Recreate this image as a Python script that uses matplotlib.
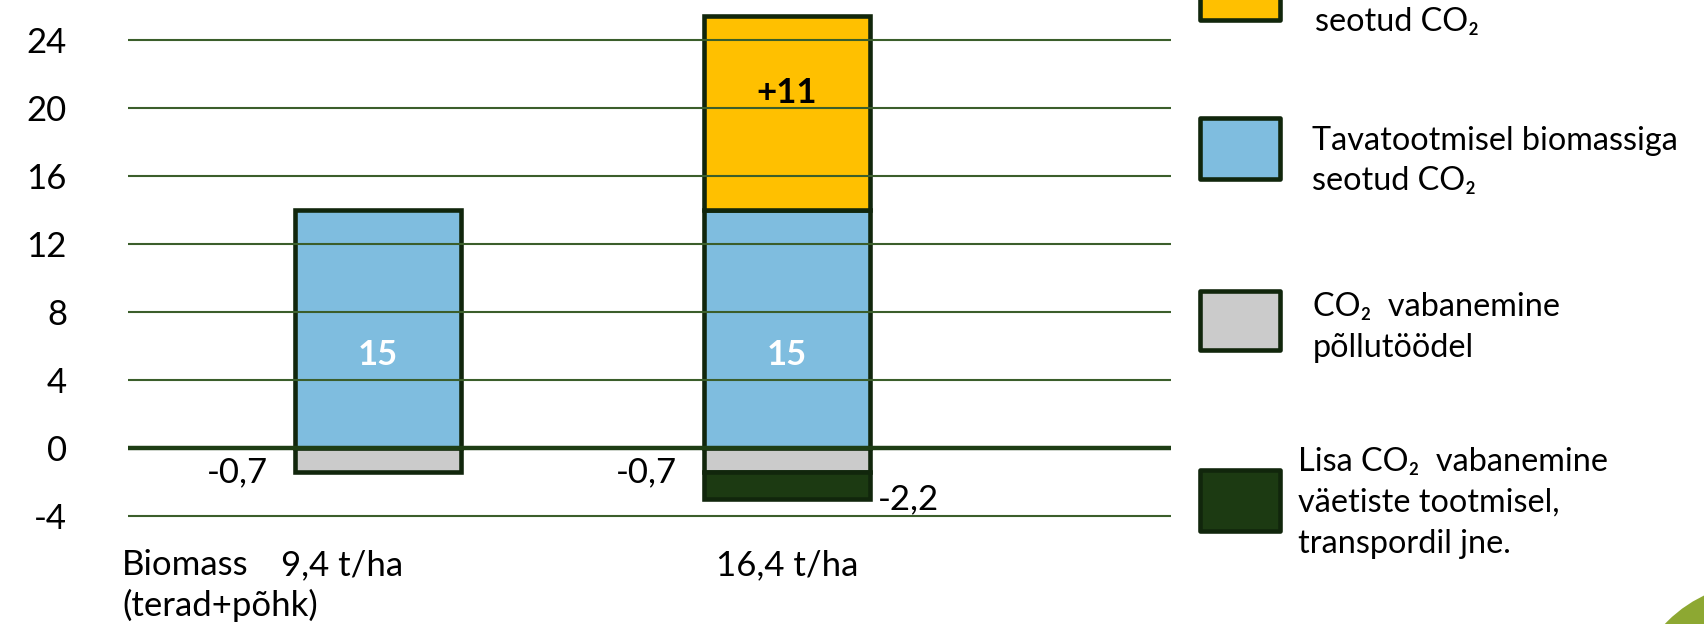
import matplotlib
matplotlib.use('Agg')
import matplotlib.pyplot as plt
from matplotlib.patches import Rectangle, Circle
from matplotlib.transforms import blended_transform_factory
import numpy as np

plt.rcParams['font.family'] = ['Lato', 'DejaVu Sans']

# ---------------- data ----------------
categories = ['9,4 t/ha', '16,4 t/ha']
blue_vals = [14.0, 14.0]        # Tavatootmisel biomassiga seotud CO2
yellow_vals = [0.0, 11.4]       # lisa seotud CO2
gray_vals = [-1.4, -1.4]        # CO2 vabanemine põllutöödel
dkgreen_vals = [0.0, -1.6]      # lisa CO2 vabanemine
blue_labels = ['15', '15']
yellow_labels = ['', '+11']
gray_labels = ['-0,7', '-0,7']
dkgreen_labels = ['', '-2,2']
yticks = [-4, 0, 4, 8, 12, 16, 20, 24]
first_row_prefix = 'Biomass'
first_row_suffix = '(terad+põhk)'
legend_entries = [
    ['seotud CO₂'],
    ['Tavatootmisel biomassiga', 'seotud CO₂'],
    ['CO₂  vabanemine', 'põllutöödel'],
    ['Lisa CO₂  vabanemine', 'väetiste tootmisel,', 'transpordil jne.'],
]

# ---------------- style ----------------
W, H = 1704, 624
C_BLUE = '#7FBDDF'
C_YEL = '#FFC000'
C_GRAY = '#CBCBCB'
C_DKG = '#1C3A12'
C_EDGE = '#11260C'
C_GRID = '#3B5E2B'
FS = 25
FS_LEG = 23.3

fig = plt.figure(figsize=(W / 100, H / 100), dpi=100)
ax = fig.add_axes([128 / W, 1 - 533.3 / H, 1043 / W, 533.3 / H])
ax.set_xlim(-0.611, 1.939)
ax.set_ylim(-5, 26.37)
for s in ax.spines.values():
    s.set_visible(False)
ax.set_xticks([])
ax.set_yticks(yticks)
ax.set_yticklabels([str(t) for t in yticks], fontsize=FS)
ax.tick_params(axis='y', length=0, pad=44)

x = np.arange(len(categories))
bw = 0.406

def draw(vals, bottoms, color):
    for xi, v, b in zip(x, vals, bottoms):
        if v != 0:
            ax.bar(xi, v, bw, bottom=b, color=color, edgecolor=C_EDGE,
                   linewidth=3.3, zorder=2)

draw(blue_vals, [0, 0], C_BLUE)
draw(yellow_vals, blue_vals, C_YEL)
draw(gray_vals, [0, 0], C_GRAY)
draw(dkgreen_vals, gray_vals, C_DKG)

for t in yticks:
    if t != 0:
        ax.axhline(t, color=C_GRID, lw=1.5, zorder=3)
ax.axhline(0, color='#1E3D14', lw=3.2, zorder=3.5)

for xi, bv, yv, gv, dv, bl, yl, gl, dl in zip(x, blue_vals, yellow_vals, gray_vals,
                                              dkgreen_vals, blue_labels, yellow_labels,
                                              gray_labels, dkgreen_labels):
    ax.text(xi, bv / 2 - 1.5, bl, color='white', fontweight='bold', fontsize=FS,
            ha='center', va='center', zorder=5)
    if yl:
        ax.text(xi, bv + yv / 2 + 1.2, yl, color='black', fontweight='bold',
                fontsize=FS, ha='center', va='center', zorder=5)
    ax.text(xi - bw / 2 - 0.066, gv, gl, fontsize=FS, ha='right', va='center', zorder=5)
    if dl:
        ax.text(xi + bw / 2 + 0.02, gv + dv, dl, fontsize=FS, ha='left', va='center',
                zorder=5)

# category labels
tr = blended_transform_factory(ax.transData, fig.transFigure)
cat_dx = [-0.088, 0.0]
for xi, c, dx in zip(x, categories, cat_dx):
    ax.text(xi + dx, 1 - 565 / H, c, transform=tr, fontsize=FS, ha='center', va='center')
fig.text(122 / W, 1 - 565 / H, first_row_prefix, fontsize=FS, ha='left', va='center')
fig.text(122 / W, 1 - 605 / H, first_row_suffix, fontsize=FS, ha='left', va='center')

# cut-off axis title at top
fig.text(80 / W, 1 + 8 / H, '(t/ha)', fontsize=FS, ha='left', va='baseline')

# legend (manual)
box_y = [(-41, 20), (118, 179), (291, 350), (470, 531)]
box_c = [C_YEL, C_BLUE, C_GRAY, C_DKG]
text_x = [1315, 1312, 1313, 1298]
line_y = [[22], [141, 181], [307, 348], [462, 503, 544]]
for (y0, y1), c, tx, lines, ys in zip(box_y, box_c, text_x, legend_entries, line_y):
    fig.patches.append(Rectangle((1200 / W, 1 - y1 / H), 80 / W, (y1 - y0) / H,
                                 transform=fig.transFigure, facecolor=c,
                                 edgecolor=C_EDGE, linewidth=3.3, joinstyle='round'))
    for ln, yy in zip(lines, ys):
        fig.text(tx / W, 1 - yy / H, ln, fontsize=FS_LEG, ha='left', va='center')

# logo corner
fig.patches.append(Circle((17.6, -0.9), 1.31, transform=fig.dpi_scale_trans,
                          facecolor='#8DA832', edgecolor='none'))

fig.savefig('out.png', dpi=100)
